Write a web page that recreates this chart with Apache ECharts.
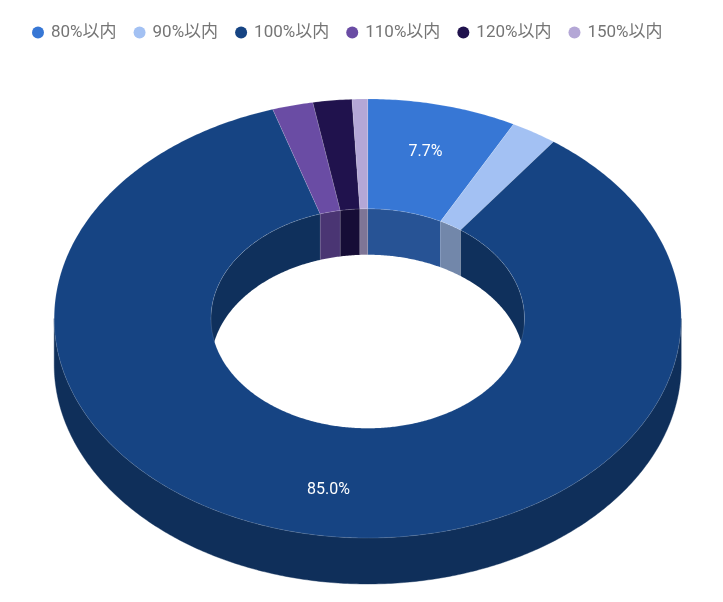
<!DOCTYPE html>
<html><head><meta charset="utf-8">
<style>html,body{margin:0;padding:0;background:#fff}#c{width:723px;height:602px}</style>
<script src="https://cdn.jsdelivr.net/npm/echarts@6/dist/echarts.min.js"></script>
</head><body><div id="c"></div>
<script>
var categories = ['80%以内','90%以内','100%以内','110%以内','120%以内','150%以内'];
var shares = [7.7, 2.4, 85.0, 2.1, 2.0, 0.8];
var colors = ['#3777d5','#a3c1f3','#164483','#6a4ca4','#20124d','#b4a7d6'];

var CX = 367.7, CY = 318.5, RX = 313.5, RY = 219.5, HOLE = 0.5, DEPTH = 46;
var LABEL_RX = 0.77, LABEL_RY = 0.788, LABEL_DY = 1, LABEL_MIN = 5, FONT = 'Roboto, "Noto Sans CJK JP", sans-serif';
var total = shares.reduce(function (a, b) { return a + b; }, 0);

function shade(hex, f) {
  var n = parseInt(hex.slice(1), 16);
  return 'rgb(' + Math.round((n >> 16) * f) + ',' + Math.round(((n >> 8) & 255) * f) + ',' + Math.round((n & 255) * f) + ')';
}
function pt(theta, k, dy) {
  return [CX + RX * k * Math.sin(theta), CY - RY * k * Math.cos(theta) + dy];
}
function arc(a, b, k, dy) {
  var n = Math.max(2, Math.ceil(Math.abs(b - a) / 0.01)), out = [];
  for (var i = 0; i <= n; i++) out.push(pt(a + (b - a) * i / n, k, dy));
  return out;
}
function band(a, b, k, d1, d2) {
  return arc(a, b, k, d1).concat(arc(b, a, k, d2));
}

function makeSeries(idx) {
  var before = 0;
  for (var i = 0; i < idx; i++) before += shares[i];
  return {
    type: 'custom', name: categories[idx], coordinateSystem: 'none',
    color: colors[idx], itemStyle: { color: colors[idx] },
    animation: false, silent: true,
    data: [[shares[idx]]],
    renderItem: function (params, api) {
      var v = api.value(0);
      var a = before / total * Math.PI * 2, b = (before + v) / total * Math.PI * 2;
      var children = [];
      var oa = Math.max(a, Math.PI / 2), ob = Math.min(b, Math.PI * 1.5);
      if (ob > oa) children.push({ type: 'polygon', z2: 1,
        shape: { points: band(oa, ob, 1, 0, DEPTH) },
        style: { fill: shade(colors[idx], 0.69), stroke: shade(colors[idx], 0.69), lineWidth: 0.4 } });
      [[a, Math.min(b, Math.PI / 2)], [Math.max(a, Math.PI * 1.5), b]].forEach(function (r) {
        if (r[1] > r[0]) children.push({ type: 'polygon', z2: 2,
          shape: { points: band(r[0], r[1], HOLE, 0, DEPTH) },
          style: { fill: shade(colors[idx], 0.7), stroke: 'rgba(255,255,255,0.15)', lineWidth: 0.5 } });
      });
      children.push({ type: 'polygon', z2: 3,
        shape: { points: arc(a, b, 1, 0).concat(arc(b, a, HOLE, 0)) },
        style: { fill: colors[idx], stroke: 'rgba(255,255,255,0.25)', lineWidth: 0.5 } });
      if (v >= LABEL_MIN) {
        var mid = (a + b) / 2;
        children.push({ type: 'text', z2: 4,
          style: { text: (v / total * 100).toFixed(1) + '%',
            x: CX + RX * LABEL_RX * Math.sin(mid), y: CY - RY * LABEL_RY * Math.cos(mid) + LABEL_DY,
            fill: '#fff', font: '400 16px ' + FONT, align: 'center', verticalAlign: 'middle' } });
      }
      return { type: 'group', children: children };
    }
  };
}

var chart = echarts.init(document.getElementById('c'), null, { renderer: 'canvas' });
chart.setOption({
  backgroundColor: '#fff',
  animation: false,
  legend: {
    top: 19, left: 27, icon: 'circle', itemWidth: 12, itemHeight: 12, itemGap: 17,
    selectedMode: false,
    textStyle: { color: '#757575', fontSize: 17, fontFamily: FONT, padding: [0, 0, 0, 2] },
    data: categories
  },
  series: categories.map(function (c, i) { return makeSeries(i); })
});
</script></body></html>
